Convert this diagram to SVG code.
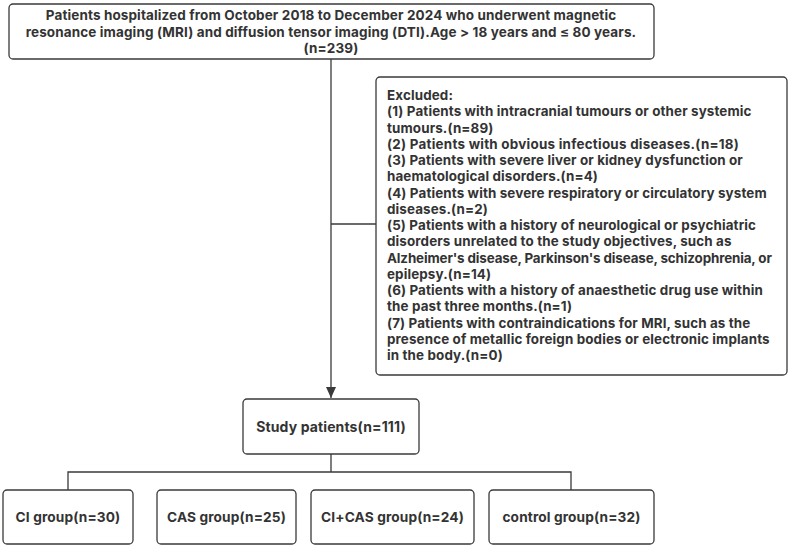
<svg xmlns="http://www.w3.org/2000/svg" width="792" height="550" viewBox="0 0 792 550">
<style>
.box{fill:#fff;stroke:#3a3a3a;stroke-width:1.3}
.t{font-family:Inter,"Noto Sans","Liberation Sans",sans-serif;font-weight:bold;font-size:13.5px;letter-spacing:0.12px;fill:#333}
.ex{font-size:13.4px;letter-spacing:0.13px}
.g{font-size:13.7px}
.c{text-anchor:middle}
.ln{fill:none;stroke:#3a3a3a;stroke-width:1.3}
</style>
<defs>
<marker id="ah" markerWidth="12" markerHeight="12" refX="11" refY="5" orient="auto" markerUnits="userSpaceOnUse">
<path d="M0,0 L11,5 L0,10 Z" fill="#3a3a3a"/>
</marker>
</defs>
<rect width="792" height="550" fill="#fff"/>
<g id="connectors">
<path class="ln" d="M331,59 V398" marker-end="url(#ah)"/>
<path class="ln" d="M331,224 H376"/>
<path class="ln" d="M331,454 V472 M68,490 V472 H571 V490"/>
</g>
<g id="top">
<rect class="box" x="9" y="4" width="645" height="55" rx="4"/>
<text class="t c" x="331" y="20">Patients hospitalized from October 2018 to December 2024 who underwent magnetic</text>
<text class="t c" x="331" y="36.5">resonance imaging (MRI) and diffusion tensor imaging (DTI).Age &gt; 18 years and ≤ 80 years.</text>
<text class="t c" x="331" y="53">(n=239)</text>
</g>
<g id="excluded">
<rect class="box" x="376" y="77" width="411" height="298" rx="4"/>
<text class="t ex" x="387" y="100">Excluded:</text>
<text class="t ex" x="387" y="116.25">(1) Patients with intracranial tumours or other systemic</text>
<text class="t ex" x="387" y="132.5">tumours.(n=89)</text>
<text class="t ex" x="387" y="148.75" textLength="352" lengthAdjust="spacing">(2) Patients with obvious infectious diseases.(n=18)</text>
<text class="t ex" x="387" y="165">(3) Patients with severe liver or kidney dysfunction or</text>
<text class="t ex" x="387" y="181.25">haematological disorders.(n=4)</text>
<text class="t ex" x="387" y="197.5">(4) Patients with severe respiratory or circulatory system</text>
<text class="t ex" x="387" y="213.75">diseases.(n=2)</text>
<text class="t ex" x="387" y="230">(5) Patients with a history of neurological or psychiatric</text>
<text class="t ex" x="387" y="246.25">disorders unrelated to the study objectives, such as</text>
<text class="t ex" x="387" y="262.5" textLength="385" lengthAdjust="spacing">Alzheimer's disease, Parkinson's disease, schizophrenia, or</text>
<text class="t ex" x="387" y="278.75">epilepsy.(n=14)</text>
<text class="t ex" x="387" y="295">(6) Patients with a history of anaesthetic drug use within</text>
<text class="t ex" x="387" y="311.25">the past three months.(n=1)</text>
<text class="t ex" x="387" y="327.5">(7) Patients with contraindications for MRI, such as the</text>
<text class="t ex" x="387" y="343.75">presence of metallic foreign bodies or electronic implants</text>
<text class="t ex" x="387" y="360">in the body.(n=0)</text>
</g>
<g id="study">
<rect class="box" x="243" y="399" width="176" height="55" rx="4"/>
<text class="t c" x="331" y="432" style="font-size:14px">Study patients(n=111)</text>
</g>
<g id="ci">
<rect class="box" x="3" y="490" width="130" height="54" rx="4"/>
<text class="t g c" x="68" y="522">CI group(n=30)</text>
</g>
<g id="cas">
<rect class="box" x="157" y="490" width="139" height="54" rx="4"/>
<text class="t g c" x="226.5" y="522">CAS group(n=25)</text>
</g>
<g id="cicas">
<rect class="box" x="311" y="490" width="163" height="54" rx="4"/>
<text class="t g c" x="392.5" y="522">CI+CAS group(n=24)</text>
</g>
<g id="control">
<rect class="box" x="489" y="490" width="165" height="54" rx="4"/>
<text class="t g c" x="571.5" y="522">control group(n=32)</text>
</g>
</svg>
